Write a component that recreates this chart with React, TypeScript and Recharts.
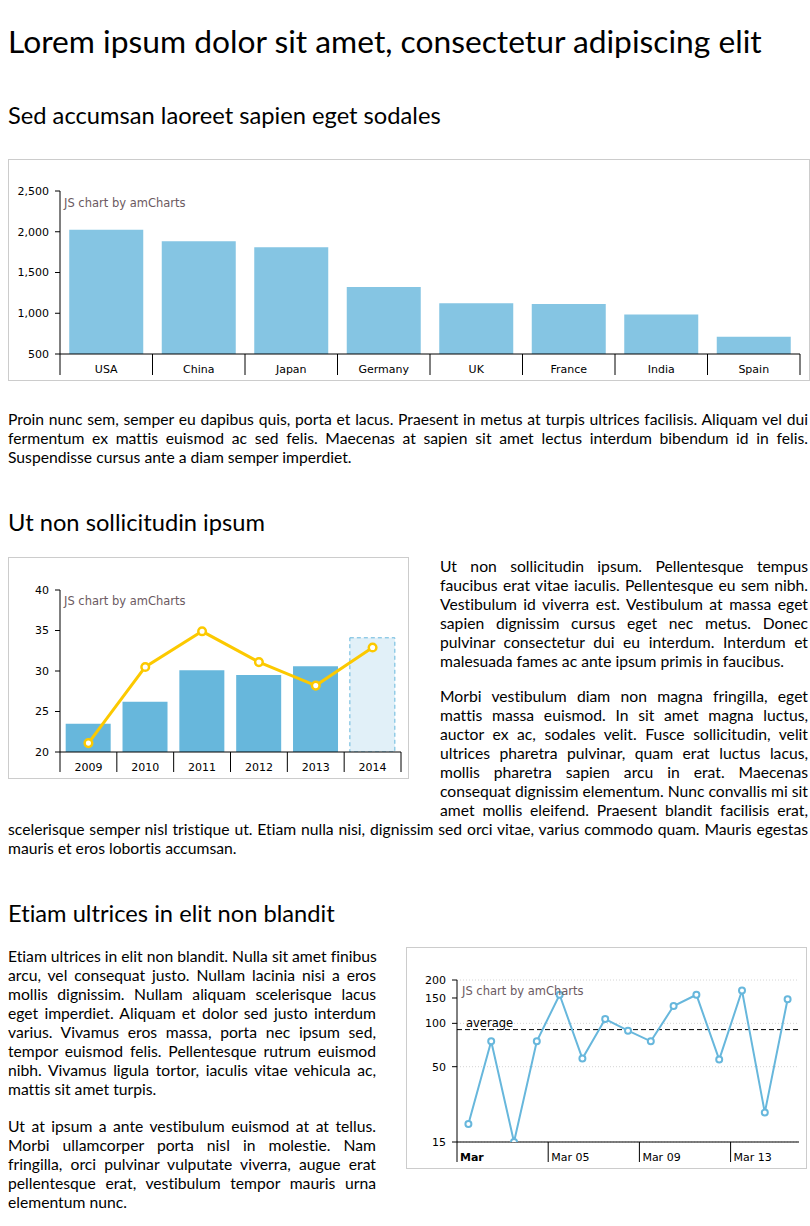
import React from 'react';
import {
  BarChart,
  ComposedChart,
  LineChart,
  Bar,
  Line,
  XAxis,
  YAxis,
  CartesianGrid,
  ReferenceLine,
  Cell,
} from 'recharts';

// ---------- Chart 1 data ----------
const countries = ['USA', 'China', 'Japan', 'Germany', 'UK', 'France', 'India', 'Spain'];
const visits = [2025, 1882, 1809, 1322, 1122, 1114, 984, 711];
const visitTicks = [500, 1000, 1500, 2000, 2500];

// ---------- Chart 2 data ----------
const years = ['2009', '2010', '2011', '2012', '2013', '2014'];
const income = [23.5, 26.2, 30.1, 29.5, 30.6, 34.1];
const expenses = [21.1, 30.5, 34.9, 31.1, 28.2, 32.9];
const yearTicks = [20, 25, 30, 35, 40];
const projectedYear = '2014';

// ---------- Chart 3 data ----------
const days = [
  'Mar 01', 'Mar 02', 'Mar 03', 'Mar 04', 'Mar 05', 'Mar 06', 'Mar 07', 'Mar 08',
  'Mar 09', 'Mar 10', 'Mar 11', 'Mar 12', 'Mar 13', 'Mar 14', 'Mar 15',
];
const dayValues = [20, 75, 15, 75, 158, 57, 107, 89, 75, 132, 158, 56, 169, 24, 147];
const logTicks = [15, 50, 100, 150, 200];

// ---------- Text (lines as laid out in the reference) ----------
const p1Lines = [
  'Proin nunc sem, semper eu dapibus quis, porta et lacus. Praesent in metus at turpis ultrices facilisis. Aliquam vel dui',
  'fermentum ex mattis euismod ac sed felis. Maecenas at sapien sit amet lectus interdum bibendum id in felis.',
  'Suspendisse cursus ante a diam semper imperdiet.',
];
const p2Lines = [
  'Ut non sollicitudin ipsum. Pellentesque tempus',
  'faucibus erat vitae iaculis. Pellentesque eu sem nibh.',
  'Vestibulum id viverra est. Vestibulum at massa eget',
  'sapien dignissim cursus eget nec metus. Donec',
  'pulvinar consectetur dui eu interdum. Interdum et',
  'malesuada fames ac ante ipsum primis in faucibus.',
];
const p3Lines = [
  'Morbi vestibulum diam non magna fringilla, eget',
  'mattis massa euismod. In sit amet magna luctus,',
  'auctor ex ac, sodales velit. Fusce sollicitudin, velit',
  'ultrices pharetra pulvinar, quam erat luctus lacus,',
  'mollis pharetra sapien arcu in erat. Maecenas',
  'consequat dignissim elementum. Nunc convallis mi sit',
  'amet mollis eleifend. Praesent blandit facilisis erat,',
  'scelerisque semper nisl tristique ut. Etiam nulla nisi, dignissim sed orci vitae, varius commodo quam. Mauris egestas',
  'mauris et eros lobortis accumsan.',
];
const p4Lines = [
  'Etiam ultrices in elit non blandit. Nulla sit amet finibus',
  'arcu, vel consequat justo. Nullam lacinia nisi a eros',
  'mollis dignissim. Nullam aliquam scelerisque lacus',
  'eget imperdiet. Aliquam et dolor sed justo interdum',
  'varius. Vivamus eros massa, porta nec ipsum sed,',
  'tempor euismod felis. Pellentesque rutrum euismod',
  'nibh. Vivamus ligula tortor, iaculis vitae vehicula ac,',
  'mattis sit amet turpis.',
];
const p5Lines = [
  'Ut at ipsum a ante vestibulum euismod at at tellus.',
  'Morbi ullamcorper porta nisl in molestie. Nam',
  'fringilla, orci pulvinar vulputate viverra, augue erat',
  'pellentesque erat, vestibulum tempor mauris urna',
  'elementum nunc.',
];

const barData = countries.map((c, i) => ({ country: c, visits: visits[i] }));
const yearData = years.map((y, i) => ({ year: y, income: income[i], expenses: expenses[i] }));
const dayData = days.map((d, i) => ({ day: d, value: dayValues[i] }));
const average = dayValues.reduce((a, b) => a + b, 0) / dayValues.length;

const CHART_FONT = "Verdana, 'DejaVu Sans', sans-serif";
const BLUE = '#67b7dc';
const YELLOW = '#fcc900';

const BandTick = (props: any) => {
  const { x, y, payload, last, len } = props;
  const off = payload && payload.offset ? payload.offset : 0;
  const left = x - off;
  return (
    <g>
      <line x1={left} y1={y} x2={left} y2={y + len} stroke="#000" strokeWidth={1} />
      {payload.value === last && (
        <line x1={x + off} y1={y} x2={x + off} y2={y + len} stroke="#000" strokeWidth={1} />
      )}
      <text x={x} y={y + 15} dy="0.36em" textAnchor="middle" fontSize={11} fill="#000" fontFamily={CHART_FONT}>
        {payload.value}
      </text>
    </g>
  );
};

const DayTick = (props: any) => {
  const { x, y, payload } = props;
  const off = payload && payload.offset ? payload.offset : 0;
  const left = x - off;
  const first = payload.value === days[0];
  return (
    <g>
      <line x1={left} y1={y} x2={left} y2={y + 20} stroke="#000" strokeWidth={1} />
      <text
        x={left + 3}
        y={y + 15}
        dy="0.36em"
        textAnchor="start"
        fontSize={11}
        fill="#000"
        fontWeight={first ? 'bold' : 'normal'}
        fontFamily={CHART_FONT}
      >
        {first ? String(payload.value).split(' ')[0] : payload.value}
      </text>
    </g>
  );
};

const AvgLabel = (props: any) => {
  const vb = props.viewBox || {};
  return (
    <text x={vb.x + 9} y={vb.y - 3} fontSize={11.5} fill="#000" fontFamily={CHART_FONT}>
      average
    </text>
  );
};

const boxStyle: React.CSSProperties = {
  border: '1px solid #cccccc',
  position: 'relative',
  background: '#fff',
};

const creditStyle: React.CSSProperties = {
  position: 'absolute',
  left: 55,
  top: 37,
  fontSize: 11.5,
  lineHeight: '13px',
  color: '#6b5a61',
  fontFamily: CHART_FONT,
  whiteSpace: 'nowrap',
  pointerEvents: 'none',
};

const h2Style: React.CSSProperties = {
  fontSize: 23.7,
  fontWeight: 400,
  lineHeight: '28px',
  margin: 0,
};

const axisStroke = { stroke: '#000' };
const yTick = { fill: '#000', fontSize: 11, fontFamily: CHART_FONT };

const Para = ({ lines, style }: { lines: string[]; style?: React.CSSProperties }) => (
  <div style={{ fontSize: 15.7, lineHeight: '19px', ...style }}>
    {lines.map((l, i) => (
      <div
        key={i}
        style={{
          whiteSpace: 'nowrap',
          textAlign: 'justify',
          textAlignLast: i === lines.length - 1 ? 'left' : 'justify',
        }}
      >
        {l}
      </div>
    ))}
  </div>
);

export default function App() {
  return (
    <div
      style={{
        width: 800,
        padding: '8px 0 8px 8px',
        fontFamily: "Lato, 'Noto Sans', sans-serif",
        fontVariantLigatures: 'none',
        color: '#000',
        display: 'flow-root',
      }}
    >
      <style>{'html,body{margin:0;padding:0;}'}</style>
      <h1 style={{ fontSize: 31.75, fontWeight: 400, lineHeight: '38px', margin: '14px 0 0 0' }}>
        Lorem ipsum dolor sit amet, consectetur adipiscing elit
      </h1>

      <h2 style={{ ...h2Style, marginTop: 41 }}>Sed accumsan laoreet sapien eget sodales</h2>

      <div style={{ ...boxStyle, width: 800, height: 220, marginTop: 30 }}>
        <BarChart
          width={800}
          height={220}
          data={barData}
          margin={{ top: 31, right: 9, bottom: 0, left: 0 }}
          barCategoryGap="10%"
        >
          <XAxis
            dataKey="country"
            axisLine={axisStroke}
            tickLine={false}
            tickSize={0}
            tickMargin={0}
            height={26}
            interval={0}
            tick={<BandTick last={countries[countries.length - 1]} len={21} />}
          />
          <YAxis
            width={51}
            type="number"
            domain={[500, 2500]}
            ticks={visitTicks}
            allowDataOverflow
            tickFormatter={(v: number) => v.toLocaleString('en-US')}
            axisLine={axisStroke}
            tickLine={axisStroke}
            tickSize={5}
            tickMargin={6}
            tick={yTick}
          />
          <Bar dataKey="visits" fill={BLUE} fillOpacity={0.8} isAnimationActive={false} />
        </BarChart>
        <div style={creditStyle}>JS chart by amCharts</div>
      </div>

      <Para lines={p1Lines} style={{ marginTop: 29 }} />

      <h2 style={{ ...h2Style, marginTop: 41, paddingBottom: 21 }}>Ut non sollicitudin ipsum</h2>

      <div style={{ ...boxStyle, float: 'left', width: 399, height: 220, margin: '0 31px 30px 0' }}>
        <ComposedChart
          width={399}
          height={220}
          data={yearData}
          margin={{ top: 32, right: 7, bottom: 0, left: 0 }}
          barCategoryGap="10%"
        >
          <XAxis
            dataKey="year"
            axisLine={axisStroke}
            tickLine={false}
            tickSize={0}
            tickMargin={0}
            height={26}
            interval={0}
            tick={<BandTick last={years[years.length - 1]} len={20} />}
          />
          <YAxis
            width={51}
            type="number"
            domain={[20, 40]}
            ticks={yearTicks}
            allowDataOverflow
            axisLine={axisStroke}
            tickLine={axisStroke}
            tickSize={5}
            tickMargin={6}
            tick={yTick}
          />
          <Bar dataKey="income" fill={BLUE} isAnimationActive={false}>
            {yearData.map((d) => (
              <Cell
                key={d.year}
                fill={d.year === projectedYear ? '#e1f0f8' : BLUE}
                stroke={d.year === projectedYear ? BLUE : 'none'}
                strokeDasharray={d.year === projectedYear ? '4 3' : undefined}
                strokeWidth={1}
              />
            ))}
          </Bar>
          <Line
            dataKey="expenses"
            stroke={YELLOW}
            strokeWidth={3}
            dot={{ r: 3.8, fill: '#fff', stroke: YELLOW, strokeWidth: 2.5 }}
            isAnimationActive={false}
          />
        </ComposedChart>
        <div style={creditStyle}>JS chart by amCharts</div>
      </div>

      <Para lines={p2Lines} style={{ marginBottom: 16 }} />
      <Para lines={p3Lines} />

      <h2 style={{ ...h2Style, marginTop: 41, paddingBottom: 20, clear: 'both' }}>Etiam ultrices in elit non blandit</h2>

      <div style={{ ...boxStyle, float: 'right', width: 399, height: 220, margin: '0 1px 30px 30px' }}>
        <LineChart width={399} height={220} data={dayData} margin={{ top: 32, right: 7, bottom: 0, left: 0 }}>
          <CartesianGrid vertical={false} stroke="#d4d4d4" strokeDasharray="1 2" />
          <XAxis
            dataKey="day"
            scale="band"
            axisLine={axisStroke}
            tickLine={false}
            tickSize={0}
            tickMargin={0}
            height={26}
            interval={3}
            tick={<DayTick />}
          />
          <YAxis
            width={50}
            type="number"
            scale="log"
            domain={[15, 200]}
            ticks={logTicks}
            allowDataOverflow
            axisLine={axisStroke}
            tickLine={axisStroke}
            tickSize={5}
            tickMargin={6}
            tick={yTick}
          />
          <ReferenceLine
            y={average}
            stroke="#000"
            strokeDasharray="5 3"
            strokeWidth={1}
            label={{ content: AvgLabel }}
          />
          <Line
            dataKey="value"
            stroke={BLUE}
            strokeWidth={2}
            dot={{ r: 3, fill: '#fff', stroke: BLUE, strokeWidth: 2 }}
            isAnimationActive={false}
          />
        </LineChart>
        <div style={creditStyle}>JS chart by amCharts</div>
      </div>

      <Para lines={p4Lines} style={{ marginBottom: 18 }} />
      <Para lines={p5Lines} />
    </div>
  );
}
